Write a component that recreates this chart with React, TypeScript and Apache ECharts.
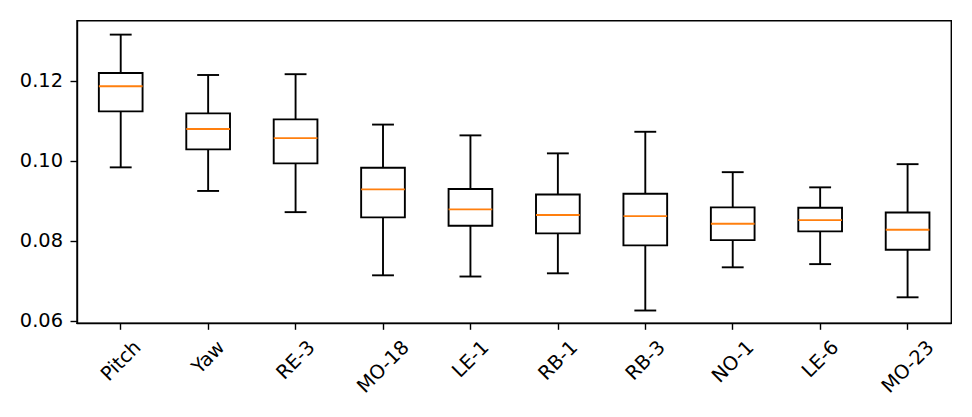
import React, { useEffect, useRef } from "react";
import * as echarts from "echarts";

const categories = ["Pitch", "Yaw", "RE-3", "MO-18", "LE-1", "RB-1", "RB-3", "NO-1", "LE-6", "MO-23"];
const whiskerLow = [0.0984, 0.0925, 0.0872, 0.0714, 0.0711, 0.0719, 0.0626, 0.0734, 0.0742, 0.0659];
const quartile1 = [0.1124, 0.1029, 0.0994, 0.0859, 0.0838, 0.0819, 0.0789, 0.0802, 0.0824, 0.0778];
const medians = [0.1187, 0.108, 0.1057, 0.0929, 0.0879, 0.0865, 0.0862, 0.0843, 0.0852, 0.0828];
const quartile3 = [0.122, 0.1119, 0.1104, 0.0983, 0.093, 0.0916, 0.0918, 0.0884, 0.0883, 0.0871];
const whiskerHigh = [0.1316, 0.1215, 0.1217, 0.1091, 0.1064, 0.1019, 0.1073, 0.0972, 0.0934, 0.0992];
const yTickValues = [0.06, 0.08, 0.1, 0.12];

const FONT = "'DejaVu Sans'";
const FS = 19.4;

function measure(text: string): number {
  const ctx = document.createElement("canvas").getContext("2d");
  if (!ctx) return text.length * FS * 0.6;
  ctx.font = `${FS}px ${FONT}`;
  return ctx.measureText(text).width;
}

export default function App() {
  const ref = useRef<HTMLDivElement>(null);
  useEffect(() => {
    if (!ref.current) return;
    const chart = echarts.init(ref.current, undefined, { renderer: "svg" });

    const gridLeft = 77;
    const gridTop = 20.7;
    const gridWidth = 874.3;
    const gridHeight = 302.6;
    const axisY = gridTop + gridHeight;
    const labelTop = 337.3;
    const textH = 0.968 * FS;
    const rich: Record<string, any> = {};
    categories.forEach((c, i) => {
      const w = measure(c);
      const dy = labelTop + 0.354 * (w + textH) - axisY;
      const p = 1.414 * dy;
      rich["l" + i] = {
        fontSize: FS,
        fontFamily: FONT,
        color: "#000",
        padding: [p, p, 0, 0],
      };
    });

    const data = categories.map((_, i) => [
      i,
      whiskerLow[i],
      quartile1[i],
      medians[i],
      quartile3[i],
      whiskerHigh[i],
    ]);

    chart.setOption({
      animation: false,
      backgroundColor: "#fff",
      grid: {
        left: gridLeft,
        top: gridTop,
        width: gridWidth,
        height: gridHeight,
        show: true,
        borderColor: "#000",
        borderWidth: 1.4,
        backgroundColor: "transparent",
      },
      xAxis: {
        type: "category",
        data: categories,
        boundaryGap: true,
        axisLine: { show: true, lineStyle: { color: "#000", width: 1.4 } },
        axisTick: { show: true, alignWithLabel: true, length: 6.5, lineStyle: { color: "#000", width: 1.4 } },
        splitLine: { show: false },
        axisLabel: {
          interval: 0,
          rotate: 45,
          align: "center",
          verticalAlign: "middle",
          margin: 0,
          formatter: (v: string, i: number) => `{l${i}|${v}}`,
          rich,
        },
      },
      yAxis: {
        type: "value",
        min: 0.0594,
        max: 0.13508,
        axisLine: { show: true, lineStyle: { color: "#000", width: 1.4 } },
        axisTick: { show: true, length: 6.5, customValues: yTickValues, lineStyle: { color: "#000", width: 1.4 } },
        splitLine: { show: false },
        axisLabel: {
          customValues: yTickValues,
          margin: 14,
          color: "#000",
          fontSize: FS,
          fontFamily: FONT,
          formatter: (v: number) => v.toFixed(2),
        },
      },
      series: [
        {
          type: "custom",
          data,
          encode: { x: 0, y: [1, 2, 3, 4, 5] },
          renderItem: (params: any, api: any) => {
            const idx = api.value(0);
            const pLow = api.coord([idx, api.value(1)]);
            const pQ1 = api.coord([idx, api.value(2)]);
            const pMed = api.coord([idx, api.value(3)]);
            const pQ3 = api.coord([idx, api.value(4)]);
            const pHigh = api.coord([idx, api.value(5)]);
            const band = api.size([1, 0])[0];
            const bw = band * 0.5;
            const cw = band * 0.25;
            const cx = pLow[0];
            const st = { stroke: "#000", lineWidth: 1.9, fill: "none" };
            return {
              type: "group",
              children: [
                { type: "line", shape: { x1: cx, y1: pLow[1], x2: cx, y2: pQ1[1] }, style: st },
                { type: "line", shape: { x1: cx, y1: pQ3[1], x2: cx, y2: pHigh[1] }, style: st },
                { type: "line", shape: { x1: cx - cw / 2, y1: pLow[1], x2: cx + cw / 2, y2: pLow[1] }, style: st },
                { type: "line", shape: { x1: cx - cw / 2, y1: pHigh[1], x2: cx + cw / 2, y2: pHigh[1] }, style: st },
                {
                  type: "rect",
                  shape: { x: cx - bw / 2, y: pQ3[1], width: bw, height: pQ1[1] - pQ3[1] },
                  style: st,
                },
                {
                  type: "line",
                  shape: { x1: cx - bw / 2, y1: pMed[1], x2: cx + bw / 2, y2: pMed[1] },
                  style: { stroke: "#ff7f0e", lineWidth: 1.9 },
                },
              ],
            };
          },
        },
      ],
    });
    return () => chart.dispose();
  }, []);
  return (
    <div
      ref={ref}
      style={{ position: "absolute", left: 0, top: 0, width: 972, height: 417, background: "#fff" }}
    />
  );
}
